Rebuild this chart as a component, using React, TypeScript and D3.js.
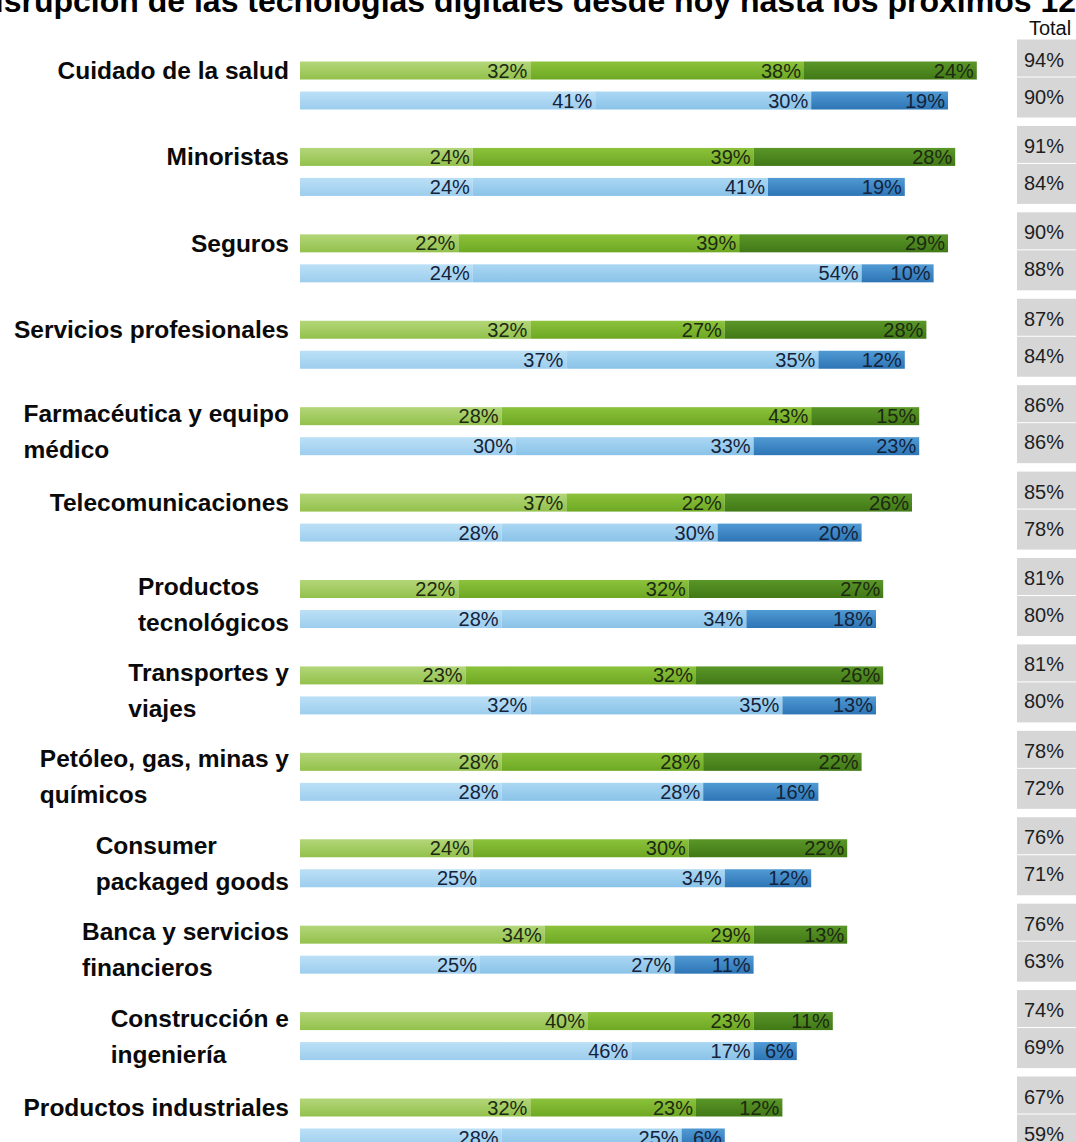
import React, { useEffect, useRef } from "react";
import * as d3 from "d3";

const titleText = "Disrupción de las tecnologías digitales desde hoy hasta los próximos 12";
const totalHeader = "Total";

const categories = [
  "Cuidado de la salud",
  "Minoristas",
  "Seguros",
  "Servicios profesionales",
  "Farmacéutica y equipo médico",
  "Telecomunicaciones",
  "Productos tecnológicos",
  "Transportes y viajes",
  "Petóleo, gas, minas y químicos",
  "Consumer packaged goods",
  "Banca y servicios financieros",
  "Construcción e ingeniería",
  "Productos industriales",
];

const labelLines = [
  ["Cuidado de la salud"],
  ["Minoristas"],
  ["Seguros"],
  ["Servicios profesionales"],
  ["Farmacéutica y equipo", "médico"],
  ["Telecomunicaciones"],
  ["Productos", "tecnológicos"],
  ["Transportes y", "viajes"],
  ["Petóleo, gas, minas y", "químicos"],
  ["Consumer", "packaged goods"],
  ["Banca y servicios", "financieros"],
  ["Construcción e", "ingeniería"],
  ["Productos industriales"],
];

const greenA = [32, 24, 22, 32, 28, 37, 22, 23, 28, 24, 34, 40, 32];
const greenB = [38, 39, 39, 27, 43, 22, 32, 32, 28, 30, 29, 23, 23];
const greenC = [24, 28, 29, 28, 15, 26, 27, 26, 22, 22, 13, 11, 12];
const blueA = [41, 24, 24, 37, 30, 28, 28, 32, 28, 25, 25, 46, 28];
const blueB = [30, 41, 54, 35, 33, 30, 34, 35, 28, 34, 27, 17, 25];
const blueC = [19, 19, 10, 12, 23, 20, 18, 13, 16, 12, 11, 6, 6];
const greenTotals = [94, 91, 90, 87, 86, 85, 81, 81, 78, 76, 76, 74, 67];
const blueTotals = [90, 84, 88, 84, 86, 78, 80, 80, 72, 71, 63, 69, 59];

const W = 1076;
const H = 1142;
const FONT = "'Liberation Sans', Arial, Helvetica, sans-serif";

const greenGrads = [
  ["#b3d679", "#93c14c"],
  ["#8cc23c", "#6ea823"],
  ["#5a9628", "#417916"],
];
const blueGrads = [
  ["#bbe0f6", "#9dcdee"],
  ["#aad7f3", "#8ac3e8"],
  ["#509ad4", "#2d75b5"],
];

export default function App() {
  const ref = useRef<SVGSVGElement | null>(null);

  useEffect(() => {
    const svg = d3.select(ref.current);
    svg.selectAll("*").remove();

    const defs = svg.append("defs");
    const addGrad = (id: string, c: string[]) => {
      const g = defs.append("linearGradient").attr("id", id).attr("x1", 0).attr("y1", 0).attr("x2", 0).attr("y2", 1);
      g.append("stop").attr("offset", "0%").attr("stop-color", c[0]);
      g.append("stop").attr("offset", "100%").attr("stop-color", c[1]);
    };
    greenGrads.forEach((c, i) => addGrad("gg" + i, c));
    blueGrads.forEach((c, i) => addGrad("bg" + i, c));

    svg.append("rect").attr("x", 0).attr("y", 0).attr("width", W).attr("height", H).attr("fill", "#ffffff");

    const x = d3.scaleLinear().domain([0, 100]).range([300, 1020]);
    const y = d3.scaleLinear().domain([0, categories.length - 1]).range([70.5, 1107.5]);
    const barH = 18;
    const blueOff = 30;

    // title (cut off at the top edge, as in the reference)
    svg.append("text")
      .attr("x", 1076).attr("y", 12)
      .attr("text-anchor", "end")
      .attr("font-family", FONT).attr("font-weight", "bold").attr("font-size", 32)
      .attr("fill", "#000")
      .text(titleText);

    svg.append("text")
      .attr("x", 1050).attr("y", 35)
      .attr("text-anchor", "middle")
      .attr("font-family", FONT).attr("font-size", 20)
      .attr("fill", "#111")
      .text(totalHeader);

    const drawBar = (vals: number[], gc: number, grads: string, labelColor: string) => {
      let acc = 0;
      vals.forEach((v, k) => {
        const s = acc;
        acc += v;
        svg.append("rect")
          .attr("x", x(s)).attr("y", gc - barH / 2)
          .attr("width", x(acc) - x(s)).attr("height", barH)
          .attr("fill", `url(#${grads}${k})`);
      });
      acc = 0;
      vals.forEach((v) => {
        acc += v;
        svg.append("text")
          .attr("x", x(acc) - 3).attr("y", gc + 7)
          .attr("text-anchor", "end")
          .attr("font-family", FONT).attr("font-size", 20)
          .attr("fill", labelColor)
          .text(`${v}%`);
      });
    };

    categories.forEach((cat, i) => {
      const gc = y(i);
      drawBar([greenA[i], greenB[i], greenC[i]], gc, "gg", "#1c2a12");
      drawBar([blueA[i], blueB[i], blueC[i]], gc + blueOff, "bg", "#14233c");

      // totals boxes
      svg.append("rect").attr("x", 1017).attr("y", gc - 31).attr("width", 70).attr("height", 37).attr("fill", "#d6d6d6");
      svg.append("rect").attr("x", 1017).attr("y", gc + 7).attr("width", 70).attr("height", 40).attr("fill", "#d6d6d6");
      svg.append("text")
        .attr("x", 1044).attr("y", gc - 4)
        .attr("text-anchor", "middle")
        .attr("font-family", FONT).attr("font-size", 20).attr("fill", "#1e1e1e")
        .text(`${greenTotals[i]}%`);
      svg.append("text")
        .attr("x", 1044).attr("y", gc + 33)
        .attr("text-anchor", "middle")
        .attr("font-family", FONT).attr("font-size", 20).attr("fill", "#1e1e1e")
        .text(`${blueTotals[i]}%`);

      // category label
      const lines = labelLines[i];
      const g = svg.append("g");
      const texts = lines.map((ln, j) => {
        const cy = lines.length === 1 ? gc : gc + blueOff / 2 + (j === 0 ? -18 : 18);
        return g.append("text")
          .attr("y", cy + 8.5)
          .attr("font-family", FONT).attr("font-weight", "bold").attr("font-size", 24.5)
          .attr("fill", "#0a0a0a")
          .text(ln);
      });
      const widths = texts.map((t) => (t.node() as SVGTextElement).getComputedTextLength());
      const maxW = Math.max(...widths);
      texts.forEach((t) => t.attr("x", 289 - maxW));
    });
  }, []);

  return (
    <svg
      ref={ref}
      width={W}
      height={H}
      style={{ position: "absolute", left: 0, top: 0, display: "block" }}
    />
  );
}
